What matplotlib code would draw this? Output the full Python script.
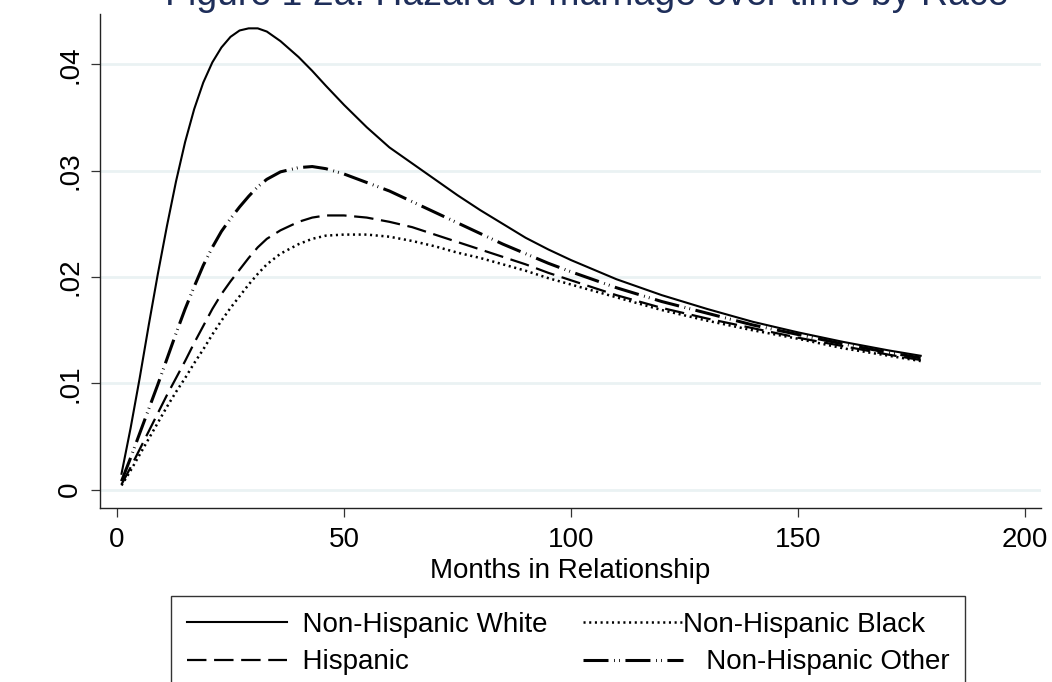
import matplotlib
matplotlib.use("Agg")
import matplotlib.pyplot as plt

plt.rcParams["font.family"] = ["Liberation Sans", "DejaVu Sans"]
plt.rcParams["lines.scale_dashes"] = False

# Months since start of relationship at which the hazard is evaluated
months = [1, 3, 5, 7, 9, 11, 13, 15, 17, 19, 21, 23, 25, 27, 29, 31, 33, 36,
          40, 43, 46, 50, 55, 60, 65, 70, 75, 80, 85, 90, 95, 100, 110, 120,
          130, 140, 150, 160, 170, 177]

# Estimated hazard of marriage by race/ethnicity
hz_white = [.0015, .0058, .0105, .0155, .0203, .0248, .0290, .0327, .0358,
            .0383, .0402, .0416, .0426, .0432, .0434, .0434, .0431, .0422,
            .0407, .0394, .0380, .0362, .0341, .0322, .0307, .0292, .0277,
            .0263, .0250, .0237, .0226, .0216, .0198, .0183, .0170, .0158,
            .0148, .0139, .0131, .0126]
hz_black = [.0004, .0018, .0033, .0048, .0063, .0078, .0092, .0105, .0119,
            .0132, .0146, .0159, .0171, .0182, .0193, .0203, .0212, .0222,
            .0231, .0236, .0239, .0240, .0240, .0238, .0234, .0229, .0223,
            .0218, .0212, .0206, .0199, .0193, .0181, .0169, .0159, .0150,
            .0142, .0133, .0126, .0121]
hz_hisp = [.0005, .0021, .0038, .0055, .0072, .0089, .0105, .0121, .0138,
           .0154, .0170, .0184, .0196, .0207, .0218, .0228, .0236, .0244,
           .0252, .0256, .0258, .0258, .0256, .0252, .0247, .0240, .0233,
           .0226, .0219, .0212, .0204, .0197, .0183, .0171, .0161, .0152,
           .0143, .0135, .0127, .0122]
hz_other = [.0008, .0030, .0053, .0076, .0099, .0123, .0147, .0170, .0191,
            .0211, .0228, .0243, .0255, .0266, .0276, .0285, .0292, .0299,
            .0303, .0304, .0302, .0297, .0289, .0281, .0271, .0261, .0251,
            .0241, .0231, .0222, .0213, .0205, .0190, .0177, .0166, .0155,
            .0146, .0137, .0129, .0124]

x_ticks = [0, 50, 100, 150, 200]
y_ticks = [0, 0.01, 0.02, 0.03, 0.04]
y_tick_labels = ["0", ".01", ".02", ".03", ".04"]

W, H = 1052, 682
fig = plt.figure(figsize=(W / 100, H / 100), dpi=100)
ax = fig.add_axes([100 / W, 1 - 508 / H, (1041 - 100) / W, (508 - 14) / H])

FS = 20
ax.plot(months, hz_white, color="black", lw=1.5, ls="-",
        label="  Non-Hispanic White", zorder=4)
ax.plot(months, hz_hisp, color="black", lw=1.6, ls=(0, (14, 5.5)),
        label="  Hispanic", zorder=3)
ax.plot(months, hz_black, color="black", lw=1.8, ls=(0, (1.5, 2.6)),
        label="Non-Hispanic Black", zorder=3)
ax.plot(months, hz_other, color="black", lw=2.2,
        ls=(0, (18, 4, 0.6, 3, 0.6, 4)),
        label="   Non-Hispanic Other", zorder=3)

ax.set_xlim(-3.74, 203.5)
ax.set_ylim(-0.00172, 0.04475)
ax.set_xticks(x_ticks)
ax.set_yticks(y_ticks)
ax.set_yticklabels(y_tick_labels, rotation=90, va="center")

ax.grid(axis="y", color="#EAF2F3", lw=2.0, zorder=0)
ax.grid(axis="x", visible=False)
ax.set_axisbelow(True)

for side in ("top", "right"):
    ax.spines[side].set_visible(False)
for side in ("left", "bottom"):
    ax.spines[side].set_color("#222222")
    ax.spines[side].set_linewidth(1.0)

ax.tick_params(axis="both", direction="out", length=6.5, width=0.9,
               color="#333333", labelsize=FS)
ax.tick_params(axis="x", pad=7.5)
ax.tick_params(axis="y", pad=5.7)

ax.set_xlabel("Months in Relationship", fontsize=FS, labelpad=3.5)

handles, labels = ax.get_legend_handles_labels()
leg = ax.legend(handles, labels,
                ncol=2, loc="upper left",
                bbox_to_anchor=(171 / W, 1 - 596 / H),
                bbox_transform=fig.transFigure,
                fontsize=FS, handlelength=3.6, handletextpad=0.0,
                columnspacing=1.3, labelspacing=0.42, borderpad=0.56,
                borderaxespad=0.0, frameon=True, fancybox=False)
leg.get_frame().set_edgecolor("black")
leg.get_frame().set_linewidth(1.0)

fig.text(587 / W, 1 - 5 / H,
         "Figure 1 2a: Hazard of marriage over time by Race",
         ha="center", va="baseline", fontsize=27, color="#1E2E5A")

fig.savefig("out.png", dpi=100, facecolor="white")
